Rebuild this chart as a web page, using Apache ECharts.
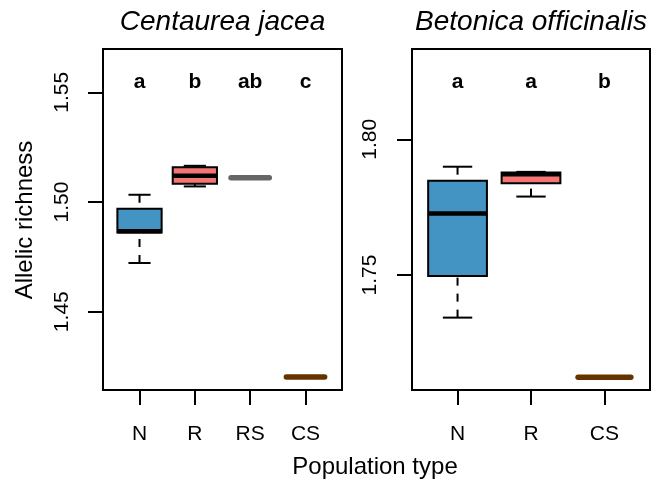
<!DOCTYPE html>
<html><head><meta charset="utf-8">
<script src="https://cdn.jsdelivr.net/npm/echarts@6/dist/echarts.min.js"></script>
<style>html,body{margin:0;padding:0;background:#fff}#c{width:662px;height:492px}</style>
</head><body><div id="c"></div>
<script>
// ---- Data: Centaurea jacea (left panel) ----
const categoriesLeft = ['N', 'R', 'RS', 'CS'];
const lowLeft    = [1.4722, 1.5071, 1.5110, 1.4202];
const q1Left     = [1.4861, 1.5083, 1.5110, 1.4202];
const medianLeft = [1.4867, 1.5120, 1.5110, 1.4202];
const q3Left     = [1.4969, 1.5158, 1.5110, 1.4202];
const highLeft   = [1.5033, 1.5165, 1.5110, 1.4202];
const lettersLeft = ['a', 'b', 'ab', 'c'];
const yTicksLeft = [1.45, 1.50, 1.55];

// ---- Data: Betonica officinalis (right panel) ----
const categoriesRight = ['N', 'R', 'CS'];
const lowRight    = [1.7343, 1.7789, 1.7123];
const q1Right     = [1.7496, 1.7838, 1.7123];
const medianRight = [1.7727, 1.7871, 1.7123];
const q3Right     = [1.7847, 1.7878, 1.7123];
const highRight   = [1.7899, 1.7880, 1.7123];
const lettersRight = ['a', 'a', 'b'];
const yTicksRight = [1.75, 1.80];

const titles = ['Centaurea jacea', 'Betonica officinalis'];
const yTitle = 'Allelic richness';
const xTitle = 'Population type';

// ---- Styles ----
const FONT = '"Liberation Sans", Arial, Helvetica, sans-serif';
const fills = { N: '#4393C3', R: '#F57575', RS: '#666666', CS: '#663300' };

function boxData(lo, q1, md, q3, hi) {
  return lo.map((v, i) => [i + 1, lo[i], q1[i], md[i], q3[i], hi[i]]);
}

function renderBox(cats) {
  return function (params, api) {
    const x = api.value(0);
    const lo = api.value(1), q1 = api.value(2), md = api.value(3), q3 = api.value(4), hi = api.value(5);
    const fill = fills[cats[params.dataIndex]];
    const w = api.size([0.8, 0], [x, md])[0];
    const hw = w / 2, sw = w / 4;
    const pm = api.coord([x, md]);
    const cx = pm[0];
    const yLo = api.coord([x, lo])[1], yQ1 = api.coord([x, q1])[1];
    const yQ3 = api.coord([x, q3])[1], yHi = api.coord([x, hi])[1];
    if (hi - lo < 1e-9) {
      return { type: 'line', shape: { x1: cx - hw + 3, y1: pm[1], x2: cx + hw - 3, y2: pm[1] },
        style: { stroke: fill, lineWidth: 5.5, lineCap: 'round' } };
    }
    const ch = [];
    ch.push({ type: 'line', shape: { x1: cx, y1: yHi, x2: cx, y2: yQ3 }, style: { stroke: '#000', lineWidth: 2, lineDash: [8, 8] } });
    ch.push({ type: 'line', shape: { x1: cx, y1: yLo, x2: cx, y2: yQ1 }, style: { stroke: '#000', lineWidth: 2, lineDash: [8, 8] } });
    ch.push({ type: 'line', shape: { x1: cx - sw, y1: yHi, x2: cx + sw, y2: yHi }, style: { stroke: '#000', lineWidth: 2 } });
    ch.push({ type: 'line', shape: { x1: cx - sw, y1: yLo, x2: cx + sw, y2: yLo }, style: { stroke: '#000', lineWidth: 2 } });
    ch.push({ type: 'rect', shape: { x: cx - hw, y: yQ3, width: w, height: yQ1 - yQ3 }, style: { fill: fill, stroke: '#000', lineWidth: 2 } });
    ch.push({ type: 'line', shape: { x1: cx - hw, y1: pm[1], x2: cx + hw, y2: pm[1] }, style: { stroke: '#000', lineWidth: 4.5 } });
    return { type: 'group', children: ch };
  };
}

function renderLetters(letters) {
  return function (params, api) {
    const p = api.coord([api.value(0), api.value(1)]);
    return { type: 'text', x: p[0], y: params.coordSys.y + 33.5,
      style: { text: letters[params.dataIndex], fill: '#000', font: 'bold 21px ' + FONT, align: 'center', verticalAlign: 'middle' } };
  };
}

function xAxisFor(cats, gi, min, max) {
  const vals = cats.map((c, i) => i + 1);
  return { type: 'value', gridIndex: gi, min: min, max: max,
    axisLine: { show: true, lineStyle: { color: '#000', width: 2 } },
    axisTick: { show: true, length: 15, inside: false, customValues: vals, lineStyle: { color: '#000', width: 2 } },
    axisLabel: { customValues: vals, formatter: v => cats[Math.round(v) - 1] || '', fontSize: 21, color: '#000', fontFamily: FONT, margin: 34 },
    splitLine: { show: false } };
}
function yAxisFor(ticks, gi, min, max, margin) {
  return { type: 'value', gridIndex: gi, min: min, max: max,
    axisLine: { show: true, lineStyle: { color: '#000', width: 2 } },
    axisTick: { show: true, length: 15, inside: false, customValues: ticks, lineStyle: { color: '#000', width: 2 } },
    axisLabel: { customValues: ticks, rotate: 90, formatter: v => v.toFixed(2), fontSize: 21, color: '#000', fontFamily: FONT, margin: margin },
    splitLine: { show: false } };
}

const chart = echarts.init(document.getElementById('c'), null, { renderer: 'canvas' });
chart.setOption({
  animation: false,
  backgroundColor: '#fff',
  grid: [
    { left: 103, right: 320, top: 49, bottom: 102, show: true, borderColor: '#000', borderWidth: 2, backgroundColor: 'transparent' },
    { left: 412, right: 12, top: 49, bottom: 102, show: true, borderColor: '#000', borderWidth: 2, backgroundColor: 'transparent' }
  ],
  xAxis: [
    xAxisFor(categoriesLeft, 0, 0.34, 4.66),
    xAxisFor(categoriesRight, 1, 0.38, 3.62)
  ],
  yAxis: [
    yAxisFor(yTicksLeft, 0, 1.41431, 1.56974, 30),
    yAxisFor(yTicksRight, 1, 1.70763, 1.83327, 31)
  ],
  series: [
    { type: 'custom', xAxisIndex: 0, yAxisIndex: 0, renderItem: renderBox(categoriesLeft),
      encode: { x: 0, y: [1, 2, 3, 4, 5] }, data: boxData(lowLeft, q1Left, medianLeft, q3Left, highLeft) },
    { type: 'custom', xAxisIndex: 1, yAxisIndex: 1, renderItem: renderBox(categoriesRight),
      encode: { x: 0, y: [1, 2, 3, 4, 5] }, data: boxData(lowRight, q1Right, medianRight, q3Right, highRight) },
    { type: 'custom', xAxisIndex: 0, yAxisIndex: 0, renderItem: renderLetters(lettersLeft),
      encode: { x: 0, y: 1 }, data: lettersLeft.map((l, i) => [i + 1, medianLeft[i]]) },
    { type: 'custom', xAxisIndex: 1, yAxisIndex: 1, renderItem: renderLetters(lettersRight),
      encode: { x: 0, y: 1 }, data: lettersRight.map((l, i) => [i + 1, medianRight[i]]) }
  ],
  graphic: [
    { type: 'text', x: 222.5, y: 22, style: { text: titles[0], fill: '#000', font: 'italic 28px ' + FONT, align: 'center', verticalAlign: 'middle' } },
    { type: 'text', x: 531, y: 22, style: { text: titles[1], fill: '#000', font: 'italic 28px ' + FONT, align: 'center', verticalAlign: 'middle' } },
    { type: 'text', x: 25, y: 220, rotation: Math.PI / 2, style: { text: yTitle, fill: '#000', font: '24px ' + FONT, align: 'center', verticalAlign: 'middle' } },
    { type: 'text', x: 375, y: 467, style: { text: xTitle, fill: '#000', font: '24px ' + FONT, align: 'center', verticalAlign: 'middle' } }
  ]
});
</script>
</body></html>
